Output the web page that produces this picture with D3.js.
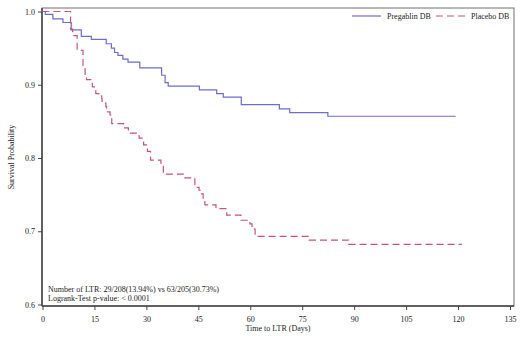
<!DOCTYPE html>
<html>
<head>
<meta charset="utf-8">
<script src="https://cdn.jsdelivr.net/npm/d3@7"></script>
<style>
  html, body { margin: 0; padding: 0; background: #fff; }
  svg { display: block; font-family: "Liberation Serif", "DejaVu Serif", serif; }
</style>
</head>
<body>
<div id="chart"></div>
<script>
// Kaplan-Meier step data: [day, survival after the event]
const pregabalinSteps = [
    [0.8, 0.996], [3.0, 0.990], [5.9, 0.985], [8.3, 0.975], [11.2, 0.966],
    [14.1, 0.962], [18.4, 0.956], [19.9, 0.950], [20.8, 0.944], [21.8, 0.940],
    [23.2, 0.935], [24.7, 0.931], [28.1, 0.923], [34.4, 0.913], [35.4, 0.903],
    [36.3, 0.898], [45.3, 0.893], [50.3, 0.888], [52.2, 0.883], [57.4, 0.873],
    [68.4, 0.867], [71.4, 0.862], [82.4, 0.857]
];
const pregabalinEnd = 119.3;

const placeboSteps = [
    [8.1, 0.976], [8.7, 0.967], [10.0, 0.947], [11.7, 0.926], [12.3, 0.912],
    [12.7, 0.907], [14.2, 0.902], [14.4, 0.897], [15.4, 0.888], [17.1, 0.881],
    [17.2, 0.875], [18.3, 0.870], [18.5, 0.863], [19.5, 0.859], [20.0, 0.847],
    [23.4, 0.841], [24.8, 0.834], [27.9, 0.827], [29.2, 0.818], [30.3, 0.809],
    [31.2, 0.797], [34.2, 0.790], [34.9, 0.778], [41.1, 0.773], [44.0, 0.760],
    [45.2, 0.756], [45.8, 0.751], [46.4, 0.740], [46.9, 0.736], [50.1, 0.731],
    [53.2, 0.722], [57.3, 0.715], [59.9, 0.710], [60.5, 0.703], [61.4, 0.693],
    [77.0, 0.688], [88.4, 0.682]
];
const placeboEnd = 121.1;

const xTicks = [0, 15, 30, 45, 60, 75, 90, 105, 120, 135];
const yTicks = [0.6, 0.7, 0.8, 0.9, 1.0];

const seriesNames = ['Pregablin DB', 'Placebo DB'];
const noteLines = [
    'Number of LTR: 29/208(13.94%) vs 63/205(30.73%)',
    'Logrank-Test p-value: < 0.0001'
];

const width = 526, height = 343;
const frame = { left: 42, right: 514, top: 8, bottom: 306 };
const blue = '#6b6bd2', red = '#c4566f';
const fontSize = '8px';

const svg = d3.select('#chart').append('svg')
    .attr('width', width)
    .attr('height', height);

const x = d3.scaleLinear().domain([0, 135]).range([42.5, 510]);
const y = d3.scaleLinear().domain([0.6, 1.0]).range([304.5, 11.5]);

// plot frame
svg.append('rect')
    .attr('x', frame.left).attr('y', frame.top)
    .attr('width', frame.right - frame.left)
    .attr('height', frame.bottom - frame.top)
    .attr('fill', 'none')
    .attr('stroke', '#6f6f6f')
    .attr('stroke-width', 1);

// axes
const xAxis = svg.append('g')
    .attr('transform', `translate(0,${frame.bottom})`)
    .call(d3.axisBottom(x).tickValues(xTicks).tickSize(4).tickPadding(6).tickFormat(d3.format('d')));
const yAxis = svg.append('g')
    .attr('transform', `translate(${frame.left},0)`)
    .call(d3.axisLeft(y).tickValues(yTicks).tickSize(4).tickPadding(3).tickFormat(d3.format('.1f')));

[xAxis, yAxis].forEach(g => {
    g.select('.domain').remove();
    g.selectAll('line').attr('stroke', '#444').attr('stroke-width', 1);
    g.selectAll('text').attr('fill', '#222').style('font-size', fontSize)
        .style('font-family', '"Liberation Serif", serif');
});

svg.append('line')
    .attr('x1', frame.left).attr('x2', frame.left)
    .attr('y1', frame.top).attr('y2', frame.bottom)
    .attr('stroke', '#444').attr('stroke-width', 1.5);
svg.append('line')
    .attr('x1', frame.left).attr('x2', frame.right)
    .attr('y1', frame.bottom).attr('y2', frame.bottom)
    .attr('stroke', '#444').attr('stroke-width', 1.5);

// axis titles
svg.append('text')
    .attr('x', (frame.left + frame.right) / 2)
    .attr('y', 331)
    .attr('text-anchor', 'middle')
    .style('font-size', fontSize)
    .attr('fill', '#222')
    .text('Time to LTR (Days)');

svg.append('text')
    .attr('transform', `translate(14,${(frame.top + frame.bottom) / 2}) rotate(-90)`)
    .attr('text-anchor', 'middle')
    .style('font-size', fontSize)
    .attr('fill', '#222')
    .text('Survival Probability');

// survival curves
function stepPoints(steps, end) {
    const pts = [[0, 1]];
    steps.forEach(([t, s]) => pts.push([t, s]));
    pts.push([end, steps[steps.length - 1][1]]);
    return pts;
}

const line = d3.line()
    .x(d => x(d[0]))
    .y(d => y(d[1]))
    .curve(d3.curveStepAfter);

svg.append('path')
    .datum(stepPoints(pregabalinSteps, pregabalinEnd))
    .attr('d', line)
    .attr('fill', 'none')
    .attr('stroke', blue)
    .attr('stroke-width', 1.2);

svg.append('path')
    .datum(stepPoints(placeboSteps, placeboEnd))
    .attr('d', line)
    .attr('fill', 'none')
    .attr('stroke', red)
    .attr('stroke-width', 1.2)
    .attr('stroke-dasharray', '7,4');

// legend
const legend = svg.append('g').attr('transform', 'translate(352,16)');
const legendItems = [
    { name: seriesNames[0], color: blue, dash: null, dx: 0 },
    { name: seriesNames[1], color: red, dash: '7,4', dx: 84 }
];
legendItems.forEach(item => {
    const g = legend.append('g').attr('transform', `translate(${item.dx},0)`);
    g.append('line')
        .attr('x1', 0).attr('x2', 29)
        .attr('y1', 0).attr('y2', 0)
        .attr('stroke', item.color)
        .attr('stroke-width', 1.2)
        .attr('stroke-dasharray', item.dash);
    g.append('text')
        .attr('x', 35).attr('y', 3)
        .style('font-size', fontSize)
        .attr('fill', '#222')
        .text(item.name);
});

// annotation
noteLines.forEach((txt, i) => {
    svg.append('text')
        .attr('x', 48)
        .attr('y', 292 + i * 9)
        .style('font-size', fontSize)
        .attr('fill', '#222')
        .text(txt);
});
</script>
</body>
</html>
